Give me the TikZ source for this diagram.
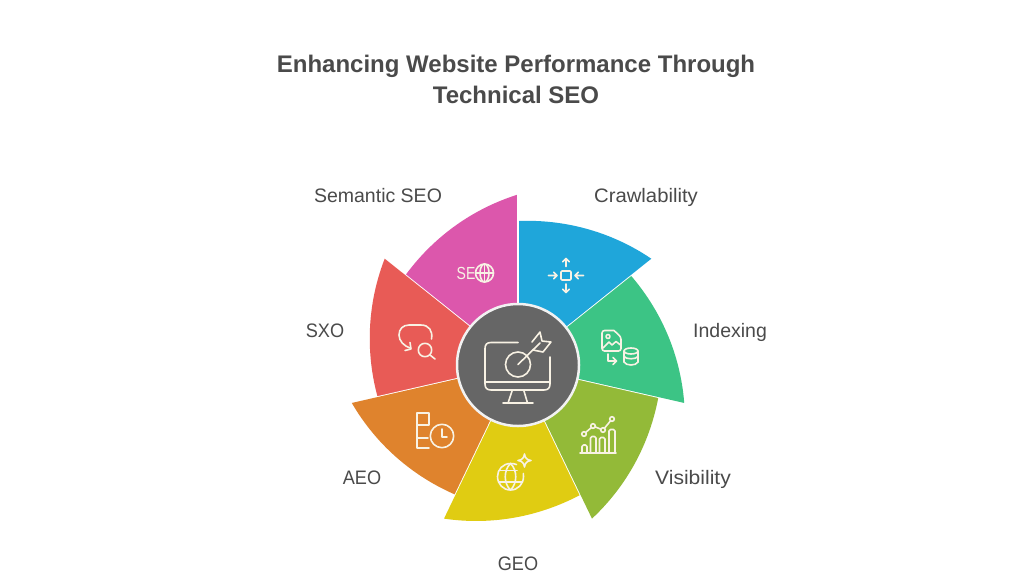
\documentclass[tikz,border=0pt]{standalone}
\usepackage{fontspec}
\setmainfont{Liberation Sans}
\definecolor{txt}{HTML}{4A4A4A}
\definecolor{ic}{HTML}{F8F2E4}
\definecolor{wblue}{HTML}{1FA6DA}\definecolor{wgreen}{HTML}{3CC485}\definecolor{wolive}{HTML}{93BA38}
\definecolor{wyellow}{HTML}{E0CC12}\definecolor{worange}{HTML}{DF832D}\definecolor{wred}{HTML}{E85B56}
\definecolor{wmag}{HTML}{DC57AC}
\tikzset{
  icon/.style={draw=ic,line width=1.6pt,line join=round,line cap=round,fill=none},
  lab/.style={text=txt,font=\fontsize{19.5}{23}\selectfont,inner sep=0pt,anchor=center},
  ttl/.style={text=txt,font=\fontsize{24}{31}\selectfont\bfseries,inner sep=0pt,align=center,anchor=center},
}
\newcommand{\wedgeat}[2]{% start angle, colour
  \fill[#2] plot[domain=0:51.43,samples=36,smooth] ({518+(144+26.5*(0.2*\x/51.43+0.8*\x*\x/2645))*cos(#1-\x)},{-365+(144+26.5*(0.2*\x/51.43+0.8*\x*\x/2645))*sin(#1-\x)})
    -- (518,-365) -- cycle;
  \draw[white,line width=1.8pt] (518,-365) -- ({518+175*cos(#1)},{-365+175*sin(#1)});
}
\begin{document}
\begin{tikzpicture}[x=1pt,y=1pt]
\useasboundingbox (0,-576) rectangle (1024,0);
\fill[white] (0,-576) rectangle (1024,0);
\node[ttl] (title) at (516,-79.5) {Enhancing Website Performance Through\\Technical SEO};
\wedgeat{141.43}{wmag}
\wedgeat{192.86}{wred}
\wedgeat{244.29}{worange}
\wedgeat{295.71}{wyellow}
\wedgeat{347.14}{wolive}
\wedgeat{38.57}{wgreen}
\wedgeat{90}{wblue}
\filldraw[fill=black!60,draw=white!95!black,line width=2.5pt] (518,-365) circle (61);
% labels
\node[lab] (l1) at (646,-197) {\scalebox{1.04}[1]{Crawlability}};
\node[lab] (l2) at (730,-332) {Indexing};
\node[lab] (l3) at (693,-479) {\scalebox{1.08}[1]{Visibility}};
\node[lab] (l4) at (518,-564) {\scalebox{.93}[1]{GEO}};
\node[lab] (l5) at (362,-478) {\scalebox{.93}[1]{AEO}};
\node[lab] (l6) at (325,-331) {\scalebox{.93}[1]{SXO}};
\node[lab] (l7) at (378,-196) {Semantic SEO};
% centre icon
\begin{scope}[icon]
\draw (518,-342.5) -- (491,-342.5) .. controls (487,-342.5) and (485,-344.5) .. (485,-348.5) -- (485,-384) .. controls (485,-388) and (487,-390) .. (491,-390) -- (544,-390) .. controls (548,-390) and (550,-388) .. (550,-384) -- (550,-357);
\draw (485,-382) -- (550,-382);
\draw (512,-391) -- (508,-403) (524,-391) -- (527.5,-403) (503,-403) -- (533,-403);
\draw (518,-364.5) circle (12.5);
\draw (518,-364.5) -- (540,-343);
\draw (532,-342) -- (540,-332) -- (542,-341) -- (551,-342) -- (543,-352) -- (533,-350);
\end{scope}
% crawl
\begin{scope}[icon]
\draw[rounded corners=1pt] (561,-271) rectangle (571,-280);
\draw (566,-266.5) -- (566,-258.5) (562.8,-261.7) -- (566,-258.5) -- (569.2,-261.7);
\draw (566,-284) -- (566,-292.5) (562.8,-289.3) -- (566,-292.5) -- (569.2,-289.3);
\draw (548.5,-275.5) -- (557,-275.5) (553.8,-272.3) -- (557,-275.5) -- (553.8,-278.7);
\draw (583.5,-275.5) -- (575,-275.5) (578.2,-272.3) -- (575,-275.5) -- (578.2,-278.7);
\end{scope}
% semantic
\node[inner sep=0pt,text=ic,font=\fontsize{17.5}{20}\selectfont] (seotxt) at (466,-273) {\scalebox{.8}[1]{SE}};
\begin{scope}[icon]
\draw (484.5,-273) circle (9);
\draw (484.5,-273) ellipse (4.5 and 9);
\draw (475.5,-273) -- (493.5,-273) (484.5,-264) -- (484.5,-282);
\end{scope}
% SXO
\begin{scope}[icon]
\draw (431.5,-339) .. controls (433,-331) and (429,-325) .. (421,-325) -- (409,-325) .. controls (403,-325) and (399,-329) .. (399,-335) .. controls (399,-341) and (404,-346) .. (410,-348);
\draw (410,-342.5) -- (411,-349) -- (405,-350.5);
\draw (425,-350) circle (6.7);
\draw (430,-355) -- (435,-359);
\end{scope}
% indexing
\begin{scope}[icon]
\draw[rounded corners=2.5pt] (614,-330.5) -- (602,-330.5) -- (602,-351) -- (621,-351) -- (621,-337) -- (614,-330.5);
\draw (608,-336.5) circle (2);
\draw (603,-348) -- (609,-342) -- (612,-345) -- (616,-341.5) -- (620.5,-345);
\draw (608,-354) -- (608,-361) -- (616.5,-361) (613,-357.5) -- (616.5,-361) -- (613,-364.5);
\draw (631,-351) ellipse (7 and 3);
\draw (624,-351) -- (624,-362) (638,-351) -- (638,-362);
\draw (624,-356.5) .. controls (626,-359.5) and (636,-359.5) .. (638,-356.5);
\draw (624,-362) .. controls (626,-366) and (636,-366) .. (638,-362);
\end{scope}
% visibility
\begin{scope}[icon]
\draw (580,-453) -- (616,-453);
\draw[rounded corners=1.5pt] (582,-453) -- (582,-445) -- (587,-445) -- (587,-453);
\draw[rounded corners=1.5pt] (590.5,-453) -- (590.5,-436.5) -- (596,-436.5) -- (596,-453);
\draw[rounded corners=1.5pt] (599.5,-453) -- (599.5,-437.5) -- (605,-437.5) -- (605,-453);
\draw[rounded corners=1.5pt] (609,-453) -- (609,-429.5) -- (615,-429.5) -- (615,-453);
\draw (584,-434) circle (2.3) (593,-426) circle (2.3) (603,-430) circle (2.3) (612,-419) circle (2.3);
\draw (585.7,-432.4) -- (591.3,-427.6) (595.2,-426.9) -- (600.9,-429.2) (604.5,-428.2) -- (610.5,-420.8);
\end{scope}
% geo
\begin{scope}[icon]
\draw (516.5,-464.5) .. controls (514.5,-463.7) and (512.5,-463.5) .. (510.5,-463.5) .. controls (503,-463.5) and (497.5,-469.5) .. (497.5,-476.5) .. controls (497.5,-484) and (503,-490) .. (510.5,-490) .. controls (518,-490) and (523.5,-484) .. (523.5,-476.5) -- (523.3,-473.5);
\draw (510.5,-463.5) .. controls (503.5,-470) and (503.5,-483.5) .. (510.5,-490);
\draw (510.5,-463.5) .. controls (517.5,-470) and (517.5,-483.5) .. (510.5,-490);
\draw (499,-470.5) -- (517,-470.5) (499,-482) -- (522,-482);
\draw (524.5,-454) .. controls (525,-458) and (527,-460) .. (531,-460.5) .. controls (527,-461) and (525,-463) .. (524.5,-467) .. controls (524,-463) and (522,-461) .. (518,-460.5) .. controls (522,-460) and (524,-458) .. (524.5,-454) -- cycle;
\end{scope}
% aeo
\begin{scope}[icon]
\draw (417,-413) -- (429,-413) -- (429,-425) -- (417,-425);
\draw (417,-413) -- (417,-448) -- (429,-448);
\draw (417,-438) -- (428,-438);
\draw (442,-436) circle (11.7);
\draw (442,-429) -- (442,-437) -- (447,-437);
\end{scope}
\end{tikzpicture}
\end{document}
